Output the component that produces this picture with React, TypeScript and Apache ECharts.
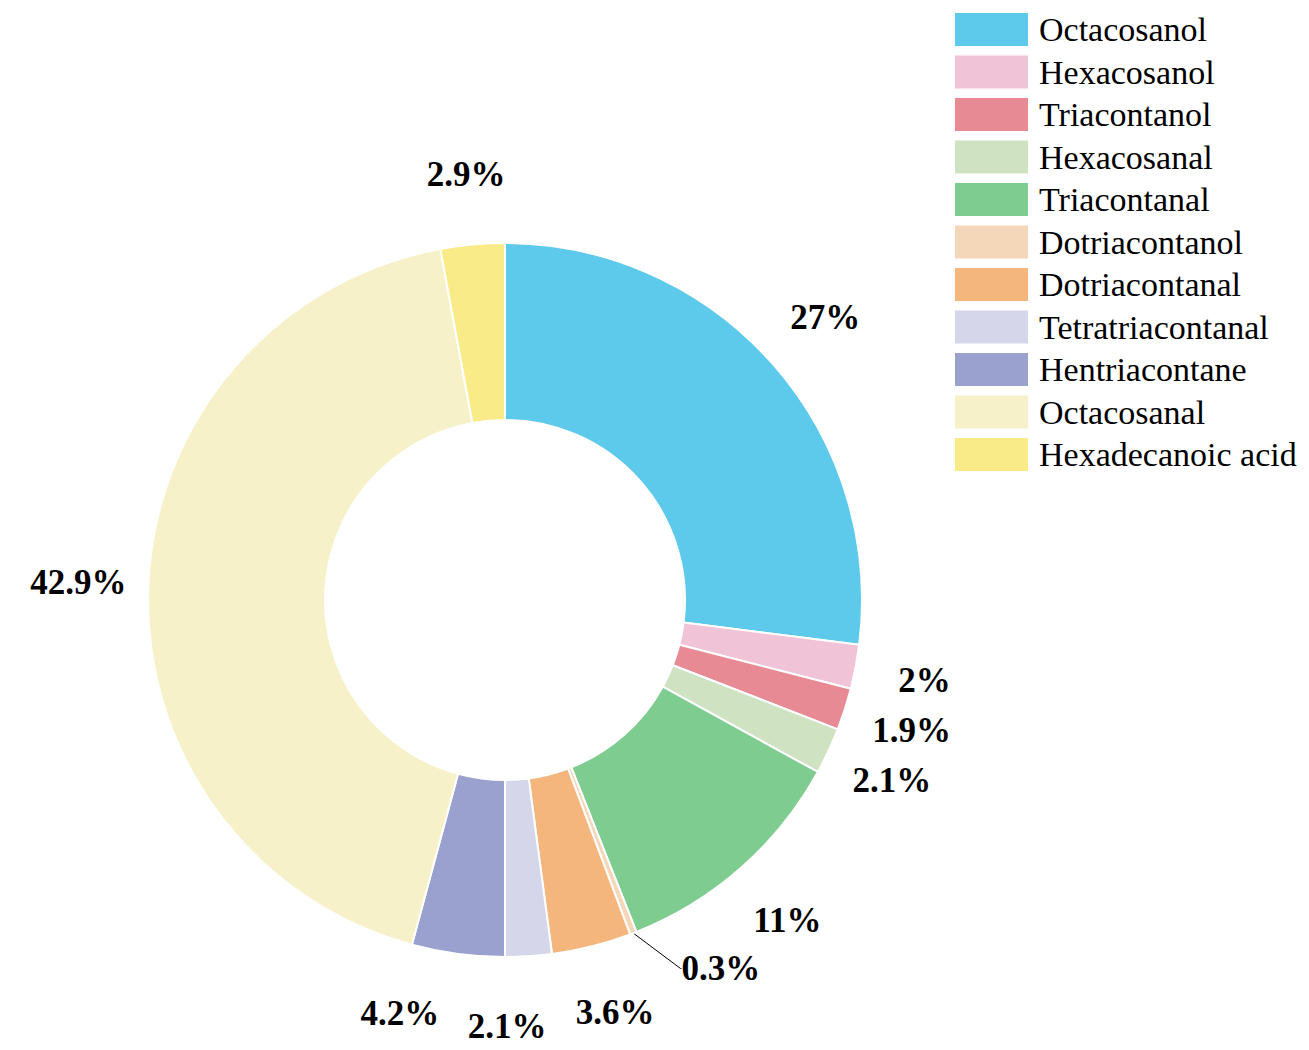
import React, { useEffect, useRef } from "react";
import * as echarts from "echarts";

const names = [
  "Octacosanol",
  "Hexacosanol",
  "Triacontanol",
  "Hexacosanal",
  "Triacontanal",
  "Dotriacontanol",
  "Dotriacontanal",
  "Tetratriacontanal",
  "Hentriacontane",
  "Octacosanal",
  "Hexadecanoic acid",
];
const values = [27, 2, 1.9, 2.1, 11, 0.3, 3.6, 2.1, 4.2, 42.9, 2.9];
const colors = [
  "#5DC9EB",
  "#F0C3D7",
  "#E88A94",
  "#CFE3C2",
  "#7FCC91",
  "#F4D6B8",
  "#F4B67D",
  "#D5D6EA",
  "#9AA1CF",
  "#F7F1CA",
  "#FAEB89",
];

const FONT = '"Times New Roman", "Liberation Serif", "DejaVu Serif", serif';
const CX = 505;
const CY = 600;
const LABEL_R = 427;
const LABEL_SIZE = 35;

function spreadLabelAngles(): number[] {
  const total = values.reduce((a, b) => a + b, 0);
  let acc = 0;
  const ang = values.map((v) => {
    const m = ((acc + v / 2) / total) * 360;
    acc += v;
    return m;
  });
  const canvas = document.createElement("canvas");
  const ctx = canvas.getContext("2d");
  let widths = values.map((v) => String(v).length * LABEL_SIZE * 0.5 + LABEL_SIZE);
  if (ctx) {
    ctx.font = `bold ${LABEL_SIZE}px ${FONT}`;
    widths = values.map((v) => ctx.measureText(`${v}%`).width);
  }
  const H = 34;
  const PAD = 28;
  const pos = (i: number) => {
    const a = (ang[i] * Math.PI) / 180;
    return [CX + LABEL_R * Math.sin(a), CY - LABEL_R * Math.cos(a)];
  };
  const n = values.length;
  for (let iter = 0; iter < 3000; iter++) {
    let moved = false;
    for (let i = 0; i < n - 1; i++) {
      const j = i + 1;
      const [xi, yi] = pos(i);
      const [xj, yj] = pos(j);
      if (
        Math.abs(xi - xj) < (widths[i] + widths[j]) / 2 + PAD &&
        Math.abs(yi - yj) < H + 10
      ) {
        ang[i] -= 0.1;
        ang[j] += 0.1;
        moved = true;
      }
    }
    if (!moved) break;
  }
  return ang;
}

export default function App() {
  const ref = useRef<HTMLDivElement>(null);
  useEffect(() => {
    if (!ref.current) return;
    const chart = echarts.init(ref.current, undefined, { renderer: "svg" });
    const labelAngles = spreadLabelAngles();
    const data = names.map((n, i) => {
      const item: any = { name: n, value: values[i], itemStyle: { color: colors[i] } };
      if (values[i] < 1) {
        item.labelLine = {
          show: true,
          length: 1,
          length2: 1,
          lineStyle: { color: "#000", width: 1 },
        };
      }
      return item;
    });
    chart.setOption({
      animation: false,
      backgroundColor: "#fff",
      legend: {
        orient: "vertical",
        left: 953,
        top: 11,
        padding: 0,
        itemWidth: 75,
        itemHeight: 35,
        itemGap: 5.5,
        icon: "rect",
        data: names,
        textStyle: {
          fontFamily: FONT,
          fontSize: 34,
          color: "#000",
          padding: [0, 0, 0, 5],
        },
      },
      series: [
        {
          type: "pie",
          center: [CX, CY],
          radius: [180, 357],
          startAngle: 90,
          clockwise: true,
          avoidLabelOverlap: false,
          itemStyle: { borderColor: "#fff", borderWidth: 2 },
          label: {
            show: true,
            position: "outside",
            formatter: (p: any) => `${p.value}%`,
            fontFamily: FONT,
            fontSize: LABEL_SIZE,
            fontWeight: "bold",
            color: "#000",
          },
          labelLine: { show: false },
          labelLayout: (params: any) => {
            const a = (labelAngles[params.dataIndex] * Math.PI) / 180;
            return {
              x: CX + LABEL_R * Math.sin(a),
              y: CY - LABEL_R * Math.cos(a),
              align: "center",
              verticalAlign: "middle",
            };
          },
          data,
        },
      ],
    });
    return () => chart.dispose();
  }, []);
  return (
    <div
      ref={ref}
      style={{ position: "absolute", left: 0, top: 0, width: 1309, height: 1050 }}
    />
  );
}
